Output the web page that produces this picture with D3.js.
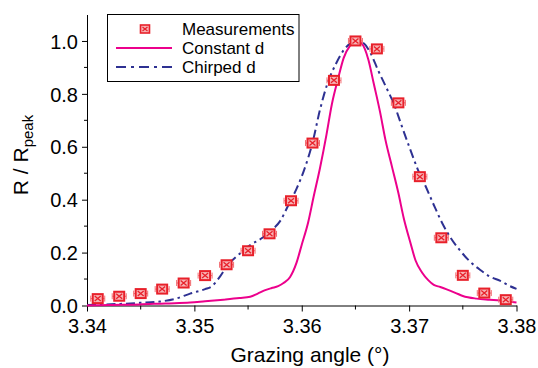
<!DOCTYPE html>
<html>
<head>
<meta charset="utf-8">
<script src="https://cdn.jsdelivr.net/npm/d3@7"></script>
<style>
  html, body { margin: 0; padding: 0; background: #fff; }
  svg { display: block; font-family: Arial, "Liberation Sans", sans-serif; }
</style>
</head>
<body>
<svg id="chart" width="538" height="368"></svg>
<script>
// ---- data ----
const measX = [3.341,3.343,3.345,3.347,3.349,3.351,3.353,3.355,3.357,3.359,3.361,3.363,3.365,3.367,3.369,3.371,3.373,3.375,3.377,3.379];
const measY = [0.026,0.035,0.045,0.062,0.085,0.113,0.154,0.207,0.271,0.396,0.614,0.851,1.0,0.97,0.766,0.487,0.256,0.114,0.047,0.022];

const constX = [3.3400,3.3421,3.3449,3.3473,3.3496,3.3510,3.3527,3.3542,3.3552,3.3559,3.3566,3.3572,3.3578,3.3583,3.3589,3.3595,3.3600,3.3606,3.3611,3.3617,3.3623,3.3628,3.3634,3.3639,3.3645,3.3651,3.3656,3.3662,3.3667,3.3673,3.3678,3.3684,3.3690,3.3695,3.3701,3.3706,3.3712,3.3718,3.3723,3.3729,3.3735,3.3743,3.3750,3.3763,3.3775,3.3785,3.3794,3.3800];
const constY = [0.0,0.002,0.004,0.008,0.011,0.016,0.022,0.028,0.033,0.045,0.058,0.066,0.073,0.085,0.107,0.16,0.23,0.315,0.41,0.52,0.645,0.76,0.86,0.935,0.982,1.0,0.99,0.93,0.84,0.73,0.625,0.525,0.425,0.33,0.24,0.17,0.125,0.095,0.078,0.07,0.061,0.048,0.036,0.026,0.022,0.019,0.014,0.011];

const chirpX = [3.3400,3.3431,3.3449,3.3468,3.3482,3.3496,3.3510,3.3516,3.3524,3.3531,3.3542,3.3552,3.3563,3.3572,3.3580,3.3587,3.3595,3.3602,3.3610,3.3617,3.3624,3.3632,3.3639,3.3647,3.3652,3.3658,3.3664,3.3671,3.3678,3.3686,3.3693,3.3701,3.3708,3.3716,3.3723,3.3731,3.3738,3.3747,3.3757,3.3766,3.3775,3.3785,3.3794,3.3800];
const chirpY = [0.002,0.006,0.010,0.015,0.025,0.045,0.062,0.072,0.11,0.152,0.195,0.228,0.255,0.285,0.32,0.375,0.44,0.51,0.615,0.74,0.84,0.915,0.965,0.995,1.0,0.99,0.955,0.89,0.83,0.76,0.68,0.59,0.515,0.445,0.38,0.31,0.26,0.21,0.165,0.135,0.11,0.093,0.073,0.063];

const xTicks = [3.34,3.35,3.36,3.37,3.38];
const xMinor = [3.345,3.355,3.365,3.375];
const yTicks = [0.0,0.2,0.4,0.6,0.8,1.0];
const yMinor = [0.1,0.3,0.5,0.7,0.9];

const legendLabels = ["Measurements","Constant d","Chirped d"];

// ---- styles ----
const pink = "#ec008c";
const blue = "#2e3192";
const red = "#e8202a";

const svg = d3.select("#chart");
const x = d3.scaleLinear().domain([3.34, 3.38]).range([87, 516.5]);
const y = d3.scaleLinear().domain([0, 1.1]).range([305.5, 14.5]);

// axes
const xAxis = svg.append("g").attr("transform", "translate(0,305.5)")
  .call(d3.axisBottom(x).tickValues(xTicks).tickFormat(d3.format(".2f")).tickSize(6).tickSizeOuter(0));
xAxis.append("g").selectAll("line").data(xMinor).join("line")
  .attr("x1", d => x(d)).attr("x2", d => x(d)).attr("y1", 0).attr("y2", 4).attr("stroke", "#000");
xAxis.selectAll("text").attr("font-size", 20).attr("fill", "#000").attr("dy", null).attr("y", 27);

const yAxis = svg.append("g").attr("transform", "translate(87,0)")
  .call(d3.axisLeft(y).tickValues(yTicks).tickFormat(d3.format(".1f")).tickSize(5).tickSizeOuter(0));
yAxis.append("g").selectAll("line").data(yMinor).join("line")
  .attr("y1", d => y(d)).attr("y2", d => y(d)).attr("x1", 0).attr("x2", -3).attr("stroke", "#000");
yAxis.selectAll("text").attr("font-size", 20).attr("fill", "#000").attr("x", -9).attr("dy", "0.36em");
svg.selectAll(".domain").attr("stroke", "#000");

// axis titles
svg.append("text").attr("x", 310).attr("y", 361.5).attr("text-anchor", "middle")
  .attr("font-size", 21).text("Grazing angle (°)");
const yt = svg.append("text").attr("transform", "translate(28,155) rotate(-90)")
  .attr("text-anchor", "middle").attr("font-size", 21);
yt.append("tspan").text("R / R");
yt.append("tspan").attr("font-size", 15).attr("dy", 5).text("peak");

// curves
const line = d3.line().x(d => x(d[0])).y(d => y(d[1])).curve(d3.curveMonotoneX);
svg.append("path").datum(d3.zip(chirpX, chirpY)).attr("d", line)
  .attr("fill", "none").attr("stroke", blue).attr("stroke-width", 2).attr("stroke-dasharray", "9,4,2.5,4");
svg.append("path").datum(d3.zip(constX, constY)).attr("d", line)
  .attr("fill", "none").attr("stroke", pink).attr("stroke-width", 2);

// marker
function marker(g) {
  const wc = "#f26d72";
  g.append("line").attr("x1", -7).attr("x2", 7).attr("y1", 0).attr("y2", 0).attr("stroke", wc).attr("stroke-width", 1);
  g.append("line").attr("x1", -7).attr("x2", -7).attr("y1", -3).attr("y2", 3).attr("stroke", wc).attr("stroke-width", 1);
  g.append("line").attr("x1", 7).attr("x2", 7).attr("y1", -3).attr("y2", 3).attr("stroke", wc).attr("stroke-width", 1);
  g.append("rect").attr("x", -5).attr("y", -4.5).attr("width", 10).attr("height", 9)
    .attr("fill", "#f7b3b5").attr("stroke", red).attr("stroke-width", 2);
  g.append("path").attr("d", "M-3,-2.5L3,2.5M-3,2.5L3,-2.5").attr("stroke", red).attr("stroke-width", 1.3);
}
svg.append("g").selectAll("g").data(d3.zip(measX, measY)).join("g")
  .attr("transform", d => `translate(${x(d[0])},${y(d[1])})`)
  .each(function() { marker(d3.select(this)); });

// legend
const lg = svg.append("g");
lg.append("rect").attr("x", 107.5).attr("y", 14.5).attr("width", 191.5).attr("height", 67)
  .attr("fill", "#fff").attr("stroke", "#000").attr("stroke-width", 1);
const rowsY = [29, 48, 67];
const lm = lg.append("g").attr("transform", `translate(145,${rowsY[0]})`);
lm.append("rect").attr("x", -4.5).attr("y", -4).attr("width", 9).attr("height", 8)
  .attr("fill", "#f7b3b5").attr("stroke", red).attr("stroke-width", 1.6);
lm.append("path").attr("d", "M-2.5,-2L2.5,2M-2.5,2L2.5,-2").attr("stroke", red).attr("stroke-width", 1.2);
lg.append("line").attr("x1", 116).attr("x2", 172).attr("y1", rowsY[1]).attr("y2", rowsY[1])
  .attr("stroke", pink).attr("stroke-width", 2);
lg.append("line").attr("x1", 116).attr("x2", 172).attr("y1", rowsY[2]).attr("y2", rowsY[2])
  .attr("stroke", blue).attr("stroke-width", 2).attr("stroke-dasharray", "10,5,3,5");
lg.selectAll("text.lbl").data(legendLabels).join("text").attr("class", "lbl")
  .attr("x", 182).attr("y", (d, i) => rowsY[i]).attr("dy", "0.36em")
  .attr("font-size", 17).text(d => d);
</script>
</body>
</html>
